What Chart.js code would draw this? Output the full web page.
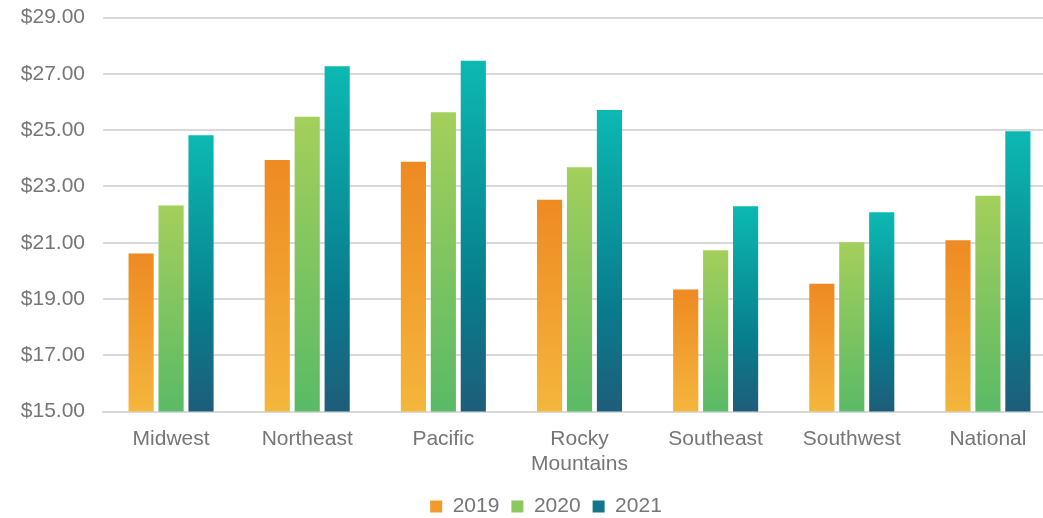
<!DOCTYPE html>
<html>
<head>
<meta charset="utf-8">
<script src="https://cdn.jsdelivr.net/npm/chart.js@4.4.1/dist/chart.umd.min.js"></script>
<style>
  html, body { margin: 0; padding: 0; background: #fff; overflow: hidden; }
  #wrap { width: 1092px; height: 540px; margin-top: -13px; }
</style>
</head>
<body>
<div id="wrap"><canvas id="myChart"></canvas></div>
<script>
const regions = ['Midwest', 'Northeast', 'Pacific', ['Rocky', 'Mountains'], 'Southeast', 'Southwest', 'National'];
const years = ['2019', '2020', '2021'];
const wages2019 = [20.62, 23.94, 23.88, 22.53, 19.34, 19.54, 21.09];
const wages2020 = [22.32, 25.48, 25.64, 23.68, 20.73, 21.02, 22.67];
const wages2021 = [24.82, 27.27, 27.47, 25.72, 22.30, 22.08, 24.96];
const yTicks = [15, 17, 19, 21, 23, 25, 27, 29];

// gradient stops per series, top of bar -> bottom of bar
const gradStops = [
    [[0, '#ee8a22'], [1, '#f4b63d']],
    [[0, '#a4cf5b'], [1, '#5aba66']],
    [[0, '#0cb9b2'], [0.65, '#087d8c'], [1, '#1e5d7a']]
];
const legendColors = ['#f29a2c', '#8cc85e', '#13748a'];

function barGradient(ctx, i) {
    const chart = ctx.chart;
    const yScale = chart.scales.y;
    if (!yScale || ctx.parsed === undefined) return legendColors[i];
    const top = yScale.getPixelForValue(ctx.parsed.y);
    const bottom = yScale.getPixelForValue(yScale.min);
    const g = chart.ctx.createLinearGradient(0, top, 0, bottom);
    gradStops[i].forEach(s => g.addColorStop(s[0], s[1]));
    return g;
}

const series = [wages2019, wages2020, wages2021];

const data = {
    labels: regions,
    datasets: series.map((vals, i) => ({
        label: years[i],
        data: vals,
        backgroundColor: (ctx) => barGradient(ctx, i),
        borderWidth: 0,
        categoryPercentage: 0.66,
        barPercentage: 0.84
    }))
};

const font = { family: 'Liberation Sans, Arial', size: 21 };

const config = {
    type: 'bar',
    data: data,
    options: {
        responsive: true,
        maintainAspectRatio: false,
        animation: false,
        layout: { padding: 0 },
        scales: {
            x: {
                grid: { display: false },
                border: { color: '#d9d9d9', width: 2 },
                ticks: {
                    color: '#767676',
                    font: font,
                    maxRotation: 0,
                    padding: 7
                }
            },
            y: {
                min: 15,
                max: 29,
                afterBuildTicks: (axis) => { axis.ticks = yTicks.map(v => ({ value: v })); },
                afterFit: (axis) => { axis.width = 103; },
                grid: { color: '#d9d9d9', lineWidth: 2, drawTicks: false },
                border: { display: false },
                ticks: {
                    color: '#767676',
                    font: font,
                    padding: 18,
                    callback: (v) => '$' + Number(v).toFixed(2)
                }
            },
            // empty spacer on the right so the plot runs past the visible edge
            spacer: {
                type: 'linear',
                position: 'right',
                grid: { display: false },
                border: { display: false },
                ticks: { display: false },
                afterFit: (axis) => { axis.width = 36; }
            }
        },
        plugins: {
            tooltip: { enabled: false },
            legend: {
                position: 'bottom',
                labels: {
                    color: '#767676',
                    font: font,
                    boxWidth: 12,
                    boxHeight: 12,
                    padding: 12,
                    generateLabels: (chart) => years.map((y, i) => ({
                        text: y,
                        fillStyle: legendColors[i],
                        strokeStyle: legendColors[i],
                        lineWidth: 0,
                        fontColor: '#767676',
                        datasetIndex: i,
                        hidden: false
                    }))
                }
            }
        }
    }
};

const myChart = new Chart(document.getElementById('myChart'), config);
</script>
</body>
</html>
